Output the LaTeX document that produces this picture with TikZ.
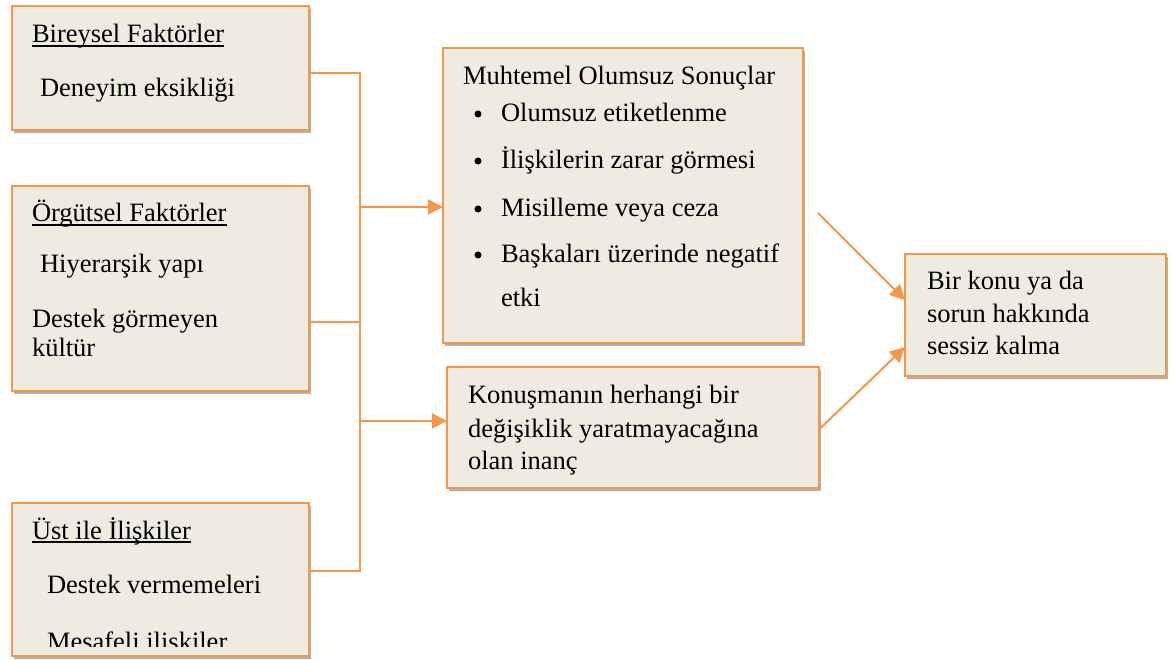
\documentclass[tikz,border=0pt]{standalone}
\usepackage{fontspec}
\setmainfont{Liberation Serif}
\usetikzlibrary{arrows.meta,shadows}
\definecolor{boxfill}{HTML}{EEECE1}
\definecolor{boxline}{HTML}{F79646}
\begin{document}
\begin{tikzpicture}[x=1pt,y=-1pt,
  panel/.style={draw=boxline, line width=2.4pt, fill=boxfill, inner sep=0pt, outer sep=0pt,
    drop shadow={shadow xshift=2pt, shadow yshift=-3pt, opacity=0.3, fill=black}},
  txt/.style={anchor=base west, inner sep=0pt, outer sep=0pt, font=\fontsize{26.5}{32}\selectfont},
  bul/.style={circle, fill=black, inner sep=0pt, minimum size=7pt},
  link/.style={draw=boxline, line width=2pt},
  arr/.style={link, -{Triangle[length=15pt,width=15pt]}},
  ul/.style={line width=1.4pt}]
\useasboundingbox (0,0) rectangle (1173,660);

% boxes
\node[panel, minimum width=297pt, minimum height=124pt] (b1) at (160.5,68) {};
\node[panel, minimum width=297pt, minimum height=205pt] (b2) at (160.5,288.5) {};
\node[panel, minimum width=297pt, minimum height=153pt] (b3) at (160.5,579.5) {};
\node[panel, minimum width=360pt, minimum height=295pt] (m) at (623,195.5) {};
\node[panel, minimum width=372pt, minimum height=121pt] (k) at (633,427.5) {};
\node[panel, minimum width=261pt, minimum height=122pt] (r) at (1035.5,315) {};

% individual factors
\node[txt] (h1) at (32,43) {Bireysel Faktörler};
\draw[ul] ([yshift=-3pt]h1.base west) -- ([yshift=-3pt]h1.base east);
\node[txt] (t11) at (40,97) {Deneyim eksikliği};

% organisational factors
\node[txt] (h2) at (32,222) {Örgütsel Faktörler};
\draw[ul] ([yshift=-3pt]h2.base west) -- ([yshift=-3pt]h2.base east);
\node[txt] (t21) at (40,273) {Hiyerarşik yapı};
\node[txt] (t22) at (32,327) {Destek görmeyen};
\node[txt] (t23) at (32,356) {kültür};

% relations with superiors
\node[txt] (h3) at (32,539) {Üst ile İlişkiler};
\draw[ul] ([yshift=-3pt]h3.base west) -- ([yshift=-3pt]h3.base east);
\node[txt] (t31) at (47,593) {Destek vermemeleri};
\begin{scope}
  \clip (12,503) rectangle (309,646.5);
  \node[txt] (t32) at (47,650) {Mesafeli ilişkiler};
\end{scope}

% possible negative outcomes
\node[txt] (hm) at (463,85) {Muhtemel Olumsuz Sonuçlar};
\node[bul] (d1) at (478,114) {};
\node[txt] (m1) at (501,122) {Olumsuz etiketlenme};
\node[bul] (d2) at (478,161) {};
\node[txt] (m2) at (501,169) {İlişkilerin zarar görmesi};
\node[bul] (d3) at (478,209) {};
\node[txt] (m3) at (501,217) {Misilleme veya ceza};
\node[bul] (d4) at (478,255) {};
\node[txt] (m4) at (501,263) {Başkaları üzerinde negatif};
\node[txt] (m5) at (501,307) {etki};

% belief box
\node[txt] (k1) at (468,403) {Konuşmanın herhangi bir};
\node[txt] (k2) at (468,437) {değişiklik yaratmayacağına};
\node[txt] (k3) at (468,469) {olan inanç};

% result box
\node[txt] (r1) at (927,290) {Bir konu ya da};
\node[txt] (r2) at (927,323) {sorun hakkında};
\node[txt] (r3) at (927,355) {sessiz kalma};

% connectors
\coordinate (j1) at (360,73);
\coordinate (j2) at (360,322);
\coordinate (j3) at (360,571);
\coordinate (ja) at (360,207);
\coordinate (jb) at (360,421);
\coordinate (s1) at (818,213);
\draw[link] (b1.east |- j1) -- (j1) |- (b3.east |- j3);
\draw[link] (b2.east |- j2) -- (j2);
\draw[arr] (ja) -- (m.west |- ja);
\draw[arr] (jb) -- (k.west |- jb);
\draw[arr] (s1) -- ([yshift=15pt]r.west);
\draw[arr] ([yshift=-2pt]k.east) -- ([yshift=-32pt]r.west);
\end{tikzpicture}
\end{document}
